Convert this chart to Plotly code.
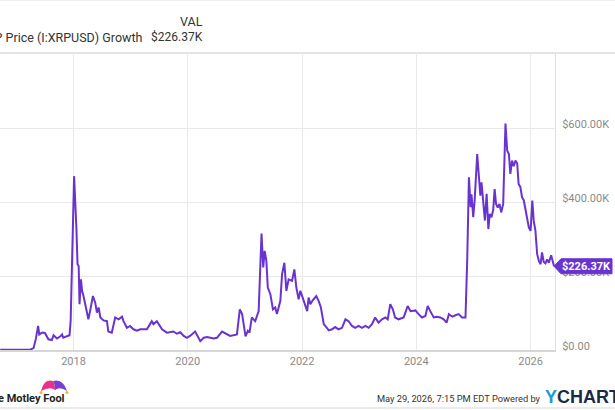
import plotly.graph_objects as go
import pandas as pd

# ---- data ----
dec_years = [
    2016.716, 2017.24, 2017.30, 2017.34, 2017.38, 2017.40, 2017.45, 2017.50, 2017.56, 2017.62,
    2017.65, 2017.71, 2017.77, 2017.80, 2017.82, 2017.88, 2017.93, 2017.95, 2017.99, 2018.01,
    2018.05, 2018.07, 2018.09, 2018.105, 2018.13, 2018.15, 2018.175, 2018.22, 2018.26, 2018.29,
    2018.34, 2018.38, 2018.41, 2018.44, 2018.47, 2018.525, 2018.585, 2018.61, 2018.67, 2018.73,
    2018.79, 2018.85, 2018.875, 2018.935, 2018.99, 2019.05, 2019.11, 2019.17, 2019.285, 2019.34,
    2019.37, 2019.40, 2019.46, 2019.55, 2019.635, 2019.75, 2019.81, 2019.87, 2019.93, 2019.985,
    2020.04, 2020.13, 2020.19, 2020.22, 2020.28, 2020.34, 2020.45, 2020.51, 2020.60, 2020.69,
    2020.74, 2020.86, 2020.91, 2020.95, 2021.01, 2021.05, 2021.08, 2021.12, 2021.18, 2021.24,
    2021.29, 2021.32, 2021.345, 2021.375, 2021.40, 2021.445, 2021.49, 2021.53, 2021.56, 2021.62,
    2021.65, 2021.69, 2021.725, 2021.765, 2021.825, 2021.865, 2021.90, 2021.94, 2021.97, 2022.03,
    2022.09, 2022.115, 2022.145, 2022.19, 2022.25, 2022.29, 2022.33, 2022.38, 2022.44, 2022.47,
    2022.525, 2022.58, 2022.64, 2022.70, 2022.76, 2022.815, 2022.875, 2022.93, 2022.99, 2023.05,
    2023.11, 2023.165, 2023.225, 2023.28, 2023.34, 2023.40, 2023.46, 2023.50, 2023.545, 2023.59,
    2023.63, 2023.69, 2023.78, 2023.85, 2023.90, 2023.985, 2024.04, 2024.10, 2024.16, 2024.20,
    2024.245, 2024.305, 2024.36, 2024.42, 2024.48, 2024.53, 2024.57, 2024.63, 2024.685, 2024.74,
    2024.80, 2024.86, 2024.89, 2024.92, 2024.95, 2024.965, 2024.995, 2025.02, 2025.065, 2025.09,
    2025.12, 2025.14, 2025.17, 2025.20, 2025.23, 2025.26, 2025.285, 2025.315, 2025.345, 2025.37,
    2025.395, 2025.425, 2025.455, 2025.485, 2025.52, 2025.56, 2025.59, 2025.62, 2025.645, 2025.675,
    2025.705, 2025.735, 2025.765, 2025.79, 2025.82, 2025.85, 2025.88, 2025.91, 2025.94, 2025.97,
    2026.00, 2026.03, 2026.055, 2026.085, 2026.115, 2026.145, 2026.175, 2026.20, 2026.23, 2026.26,
    2026.29, 2026.32, 2026.36, 2026.39, 2026.41,
]
values_k = [
    1, 1, 5, 30, 65, 42, 47, 46, 29, 27,
    40, 31, 37, 42, 33, 36, 40, 80, 331, 470,
    331, 232, 227, 124, 191, 160, 146, 115, 83, 105,
    146, 128, 101, 115, 88, 80, 78, 50, 47, 88,
    83, 90, 78, 60, 65, 56, 52, 56, 56, 70,
    78, 70, 78, 56, 47, 50, 44, 48, 38, 33,
    38, 50, 33, 24, 33, 35, 31, 33, 50, 42,
    38, 42, 110, 97, 37, 52, 47, 88, 78, 105,
    315, 223, 268, 241, 169, 151, 110, 115, 97, 133,
    205, 236, 160, 191, 187, 218, 169, 137, 160, 133,
    105, 142, 124, 135, 146, 133, 115, 70, 60, 53,
    56, 62, 56, 60, 83, 78, 65, 60, 65, 60,
    65, 60, 70, 88, 74, 83, 88, 83, 124, 110,
    88, 83, 88, 119, 105, 107, 97, 88, 92, 119,
    105, 88, 90, 88, 83, 74, 97, 90, 94, 97,
    88, 88, 241, 467, 386, 421, 359, 404, 530, 485,
    417, 453, 395, 350, 422, 327, 368, 359, 379, 435,
    395, 385, 395, 372, 395, 612, 539, 530, 476, 512,
    497, 512, 505, 449, 441, 413, 405, 379, 359, 331,
    322, 404, 349, 322, 259, 241, 232, 264, 238, 234,
    245, 236, 256, 238, 226.37,
]
y_tickvals = [0, 200, 400, 600]
y_ticktext = ["$0.00", "$200.00K", "$400.00K", "$600.00K"]
last_value = 226.37
last_label = "$226.37K"
series_name = "XRP Price (I:XRPUSD) Growth"


def to_date(y):
    yr = int(y)
    start = pd.Timestamp(yr, 1, 1)
    end = pd.Timestamp(yr + 1, 1, 1)
    return start + (end - start) * (y - yr)


dates = [to_date(y) for y in dec_years]

LINE = "#6933d0"
FONT = "Roboto"
W, H = 615, 410
ML, MR, MT, MB = 0, 60, 53, 60
PW = W - ML - MR
PH = H - MT - MB


def px(x):
    return (x - ML) / PW


def py(y):
    return (H - MB - y) / PH


fig = go.Figure()
fig.add_trace(go.Scatter(x=dates, y=values_k, mode="lines",
                         line=dict(color=LINE, width=2), hoverinfo="skip",
                         showlegend=False))

ypx = PH / 803.0  # pixels per K

shapes = [
    dict(type="line", xref="paper", yref="paper", x0=px(0), x1=px(W), y0=1, y1=1,
         line=dict(color="#e4e4e4", width=2), layer="below"),
    dict(type="line", xref="paper", yref="paper", x0=px(0), x1=px(W), y0=py(0.5), y1=py(0.5),
         line=dict(color="#eeeeee", width=1)),
    dict(type="line", xref="paper", yref="paper", x0=px(0), x1=px(W), y0=py(408), y1=py(408),
         line=dict(color="#e4e4e4", width=1.5)),
    # value label box with arrow
    dict(type="path", xref="paper", yref="y",
         path=(f"M {px(554)},{last_value} L {px(561)},{last_value + 7.5 / ypx} "
               f"L {px(612)},{last_value + 7.5 / ypx} L {px(612)},{last_value - 7.5 / ypx} "
               f"L {px(561)},{last_value - 7.5 / ypx} Z"),
         fillcolor=LINE, line=dict(color=LINE, width=1), layer="above"),
    # jester hat (logo)
    dict(type="path", xref="paper", yref="paper",
         path=(f"M {px(41)},{py(391)} Q {px(44)},{py(378)} {px(53)},{py(381)} "
               f"Q {px(55)},{py(384)} {px(55)},{py(390)} Q {px(50)},{py(386)} {px(41)},{py(391)} Z"),
         fillcolor="#e8318a", line=dict(width=0)),
    dict(type="path", xref="paper", yref="paper",
         path=(f"M {px(53)},{py(381)} Q {px(63)},{py(378)} {px(67)},{py(391)} "
               f"Q {px(60)},{py(386)} {px(55)},{py(390)} Q {px(55)},{py(384)} {px(53)},{py(381)} Z"),
         fillcolor="#7a3fd0", line=dict(width=0)),
    dict(type="circle", xref="paper", yref="paper", x0=px(39.5), x1=px(42.5), y0=py(394), y1=py(391),
         fillcolor="#f4b81e", line=dict(width=0)),
    dict(type="circle", xref="paper", yref="paper", x0=px(65.5), x1=px(68.5), y0=py(394), y1=py(391),
         fillcolor="#f4b81e", line=dict(width=0)),
]

annotations = [
    dict(text=series_name, xref="paper", yref="paper", x=px(145), y=py(37),
         xanchor="right", yanchor="middle", showarrow=False,
         font=dict(family=FONT, size=12.5, color="#333333")),
    dict(text="VAL", xref="paper", yref="paper", x=px(205), y=py(21),
         xanchor="right", yanchor="middle", showarrow=False,
         font=dict(family=FONT, size=12.5, color="#333333")),
    dict(text=last_label, xref="paper", yref="paper", x=px(205), y=py(37),
         xanchor="right", yanchor="middle", showarrow=False,
         font=dict(family=FONT, size=12, color="#333333")),
    dict(text=f"<b>{last_label}</b>", xref="paper", yref="y", x=px(586.5), y=last_value,
         xanchor="center", yanchor="middle", showarrow=False,
         font=dict(family=FONT, size=11, color="white")),
    dict(text="May 29, 2026, 7:15 PM EDT Powered by", xref="paper", yref="paper",
         x=px(543), y=py(398), xanchor="right", yanchor="middle", showarrow=False,
         font=dict(family=FONT, size=9.3, color="#333333")),
    dict(text="<span style='color:#1f9ad6'>Y</span>CHARTS", xref="paper", yref="paper",
         x=px(543), y=py(397), xanchor="left", yanchor="middle", showarrow=False,
         font=dict(family="Liberation Sans", size=18, color="#1d2a47", weight="bold")),
    dict(text="<b>The Motley Fool</b>", xref="paper", yref="paper",
         x=px(67), y=py(398), xanchor="right", yanchor="middle", showarrow=False,
         font=dict(family=FONT, size=11, color="#222222")),
]

fig.update_layout(
    width=W, height=H,
    margin=dict(l=ML, r=MR, t=MT, b=MB, pad=0),
    paper_bgcolor="white", plot_bgcolor="white",
    showlegend=False,
    shapes=shapes,
    annotations=annotations,
    xaxis=dict(type="date", range=["2016-09-18", "2026-06-06"],
               tick0="2018-01-01", dtick="M24", tickformat="%Y",
               showgrid=True, gridcolor="#e9e9e9", gridwidth=1,
               showline=True, linecolor="#d6d6d6", linewidth=2,
               ticks="", tickfont=dict(family=FONT, size=11, color="#8a8a8a"),
               fixedrange=True),
    yaxis=dict(side="right", range=[0, 803],
               tickvals=y_tickvals, ticktext=y_ticktext,
               showgrid=True, gridcolor="#e9e9e9", gridwidth=1,
               showline=True, linecolor="#e0e0e0", linewidth=1, zeroline=False,
               ticks="", ticklabelstandoff=4, ticklabelshift=-4,
               tickfont=dict(family=FONT, size=11, color="#8a8a8a"),
               fixedrange=True),
)

fig.write_html("out.html")
